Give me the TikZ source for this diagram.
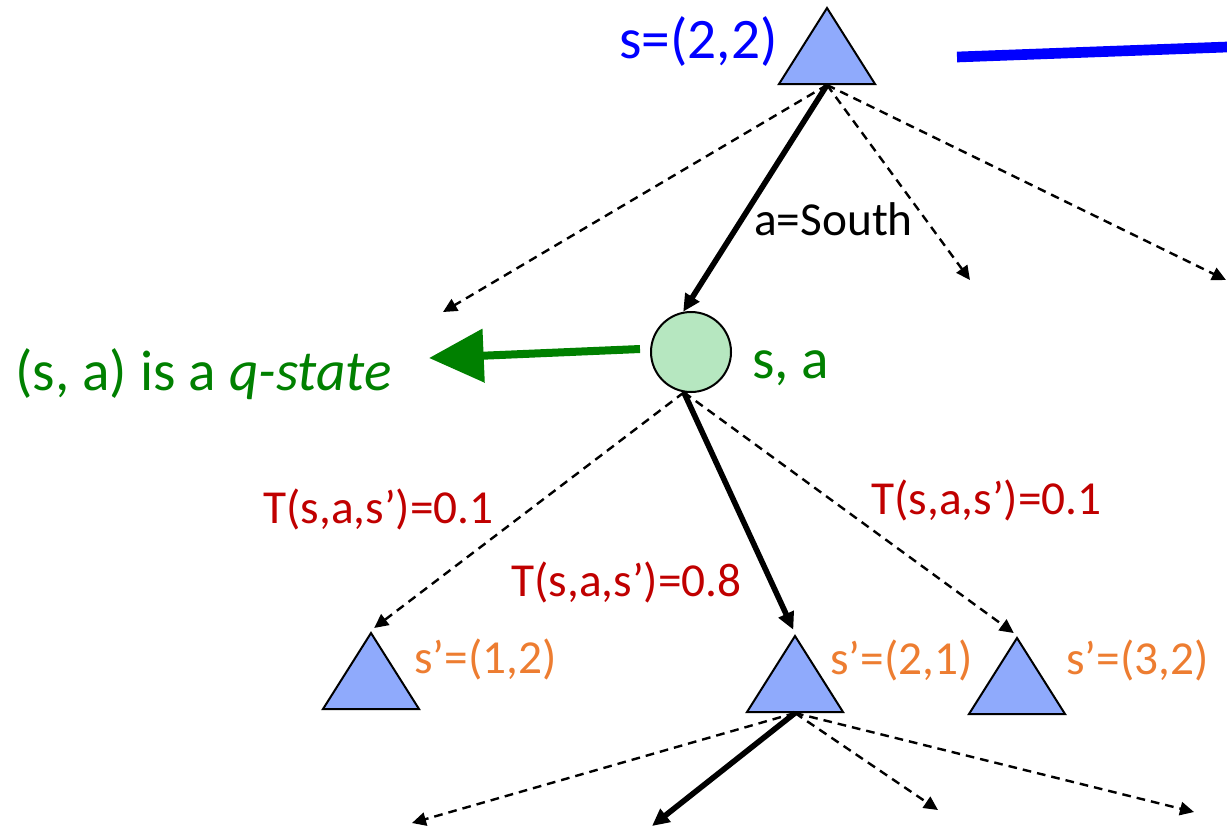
\documentclass[tikz,border=0pt]{standalone}
\usepackage{fontspec}
\setmainfont{Carlito}
\usetikzlibrary{arrows.meta,shapes.geometric}
\definecolor{trifill}{RGB}{143,170,252}
\definecolor{cfill}{RGB}{182,231,192}
\definecolor{qgreen}{RGB}{0,128,0}
\definecolor{sblue}{RGB}{0,0,255}
\definecolor{tred}{RGB}{192,0,0}
\definecolor{sorange}{RGB}{237,125,49}
\tikzset{
  tri/.style={isosceles triangle, isosceles triangle stretches, shape border rotate=90,
    minimum width=72pt, minimum height=57pt, inner sep=0pt, draw=black, line width=1.5pt, fill=trifill},
  qnode/.style={circle, draw=black, line width=1.5pt, fill=cfill, minimum size=60pt, inner sep=0pt},
  big/.style={font=\fontsize{43}{51}\selectfont},
  small/.style={font=\fontsize{35.5}{42}\selectfont},
  lbl/.style={inner sep=0pt, anchor=base west},
  dasharr/.style={line width=1.8pt, dash pattern=on 6.5pt off 4.5pt, -{Triangle[length=10.5pt,width=10pt]}},
  thickarr/.style={line width=4.2pt, -{Triangle[length=13pt,width=12pt]}},
  garrow/.style={qgreen, line width=6pt, -{Triangle[length=41pt,width=39pt]}},
}
\begin{document}
\begin{tikzpicture}[x=0.75pt,y=-0.75pt]
\useasboundingbox (0,0) rectangle (1227,826);

% state and q-state nodes
\node[tri, anchor=south] (s0) at (827,85) {};
\node[qnode] (q) at (691,352) {};
\node[tri, anchor=south] (t1) at (371,710) {};
\node[tri, anchor=south] (t2) at (795,713) {};
\node[tri, anchor=south] (t3) at (1017,715) {};

% labels
\node[big, lbl, text=sblue] (ls0) at (619,58) {s=(2,2)};
\node[big, lbl, text=qgreen] (lq) at (752,378) {s, a};
\node[big, lbl, text=qgreen] (lqs) at (15,390) {(s, a) is a \textit{q-state}};
\node[small, lbl] (la) at (754,235) {a=South};
\node[small, lbl, text=tred] (lt1) at (263,523) {T(s,a,s’)=0.1};
\node[small, lbl, text=tred] (lt2) at (511,596) {T(s,a,s’)=0.8};
\node[small, lbl, text=tred] (lt3) at (871,514) {T(s,a,s’)=0.1};
\node[small, lbl, text=sorange] (l1) at (414,673) {s’=(1,2)};
\node[small, lbl, text=sorange] (l2) at (830,674) {s’=(2,1)};
\node[small, lbl, text=sorange] (l3) at (1066,674) {s’=(3,2)};

% free ends
\coordinate (e1) at (443,312);
\coordinate (e2) at (970,280);
\coordinate (e3) at (1226,280);
\coordinate (f1) at (412,823);
\coordinate (f2) at (652,826);
\coordinate (f3) at (938,810);
\coordinate (f4) at (1194,812);
\coordinate (g1) at (640,349);
\coordinate (g2) at (429,358);
\coordinate (b1) at (957,57);
\coordinate (b2) at (1227,47);

% blue bar
\draw[sblue, line width=8pt] (b1) -- (b2);

% green arrow
\draw[garrow] (g1) -- (g2);

% from top state
\draw[dasharr] (s0.south) -- (e1);
\draw[dasharr] (s0.south) -- (e2);
\draw[dasharr] (s0.south) -- (e3);
\draw[thickarr] (s0.south) -- (q.101);

% from q-state
\draw[dasharr, shorten >=3pt] (q.260) -- (t1.apex);
\draw[dasharr, shorten >=3pt] (q.260) -- (t3.apex);
\draw[thickarr, shorten >=3pt] (q.260) -- (t2.apex);

% from s'=(2,1)
\draw[dasharr] (t2.south) -- (f1);
\draw[dasharr] (t2.south) -- (f3);
\draw[dasharr] (t2.south) -- (f4);
\draw[thickarr] (t2.south) -- (f2);
\end{tikzpicture}
\end{document}
